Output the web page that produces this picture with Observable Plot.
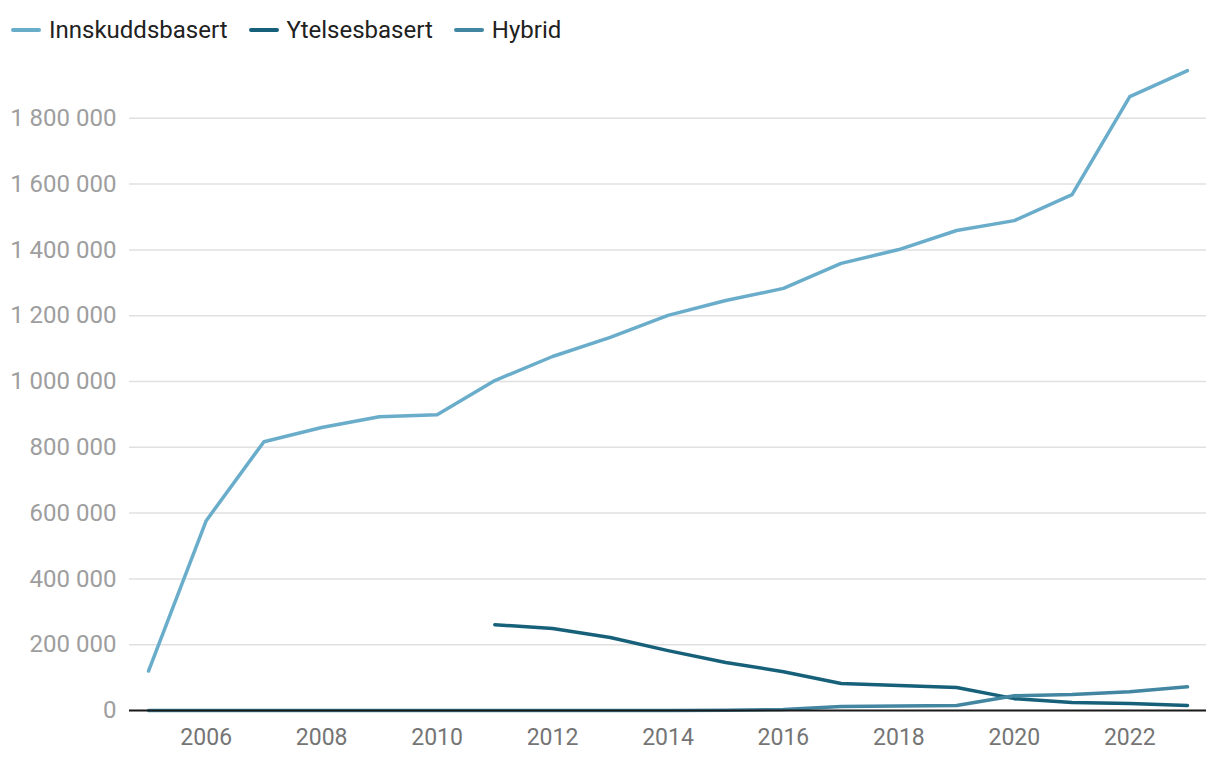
<!DOCTYPE html>
<html>
<head>
<meta charset="utf-8">
<script src="https://cdn.jsdelivr.net/npm/d3@7"></script>
<script src="https://cdn.jsdelivr.net/npm/@observablehq/plot@0.6"></script>
<style>
  html, body { margin: 0; padding: 0; background: #fff; }
  body { width: 1220px; height: 760px; overflow: hidden; font-family: Roboto, "Noto Sans", sans-serif; }
  #legend { height: 44px; display: flex; align-items: flex-end; padding-left: 11px; box-sizing: border-box; padding-bottom: 0px; }
  .item { display: flex; align-items: center; margin-right: 21px; font-size: 24px; color: #212121; }
  .sw { width: 30px; height: 4px; border-radius: 2px; margin-right: 8px; }
  svg { display: block; }
</style>
</head>
<body>
<div id="legend"></div>
<div id="chart"></div>
<script>
const years = [2005,2006,2007,2008,2009,2010,2011,2012,2013,2014,2015,2016,2017,2018,2019,2020,2021,2022,2023];
const innskuddsbasert = [120000,577000,817000,860000,893000,899000,1003000,1076000,1134000,1201000,1246000,1283000,1359000,1401000,1459000,1489000,1568000,1866000,1945000];
const ytelsesbasert = [null,null,null,null,null,null,261000,249000,222000,182000,146000,118000,82000,76000,70000,36000,24000,21000,15000];
const hybrid = [0,0,0,0,0,0,0,0,0,0,1000,3000,12000,14000,15000,45000,49000,57000,72000];
const seriesNames = ["Innskuddsbasert","Ytelsesbasert","Hybrid"];
const seriesColors = ["#6aadcb","#17607a","#4386a2"];
const yTicks = [0,200000,400000,600000,800000,1000000,1200000,1400000,1600000,1800000];
const xTicks = [2006,2008,2010,2012,2014,2016,2018,2020,2022];

const seriesValues = [innskuddsbasert, ytelsesbasert, hybrid];
const data = [];
seriesNames.forEach((s, i) => years.forEach((y, j) => data.push({series: s, year: y, value: seriesValues[i][j]})));

const locale = d3.formatLocale({thousands: " ", grouping: [3], decimal: ",", currency: ["", " kr"]});
const fmt = locale.format(",");

const legend = document.getElementById("legend");
seriesNames.forEach((s, i) => {
  const it = document.createElement("div");
  it.className = "item";
  it.innerHTML = `<div class="sw" style="background:${seriesColors[i]}"></div><span>${s}</span>`;
  legend.appendChild(it);
});

const chart = Plot.plot({
  width: 1220,
  height: 716,
  marginLeft: 129,
  marginRight: 14,
  marginTop: 8,
  marginBottom: 50,
  insetLeft: 19,
  insetRight: 19,
  style: {fontFamily: "Roboto, sans-serif", fontSize: "23px", background: "#fff"},
  x: {domain: [2005, 2023], ticks: xTicks, tickFormat: d => String(d), tickSize: 0, tickPadding: 18, label: null},
  y: {domain: [0, 2000000], ticks: yTicks, tickFormat: fmt, tickSize: 0, tickPadding: 13, label: null},
  color: {domain: seriesNames, range: seriesColors},
  marks: [
    Plot.gridY(yTicks, {stroke: "#e0e0e0", strokeOpacity: 1, strokeWidth: 1.5}),
    Plot.axisY({ticks: yTicks, tickFormat: fmt, tickSize: 0, tickPadding: 13, fill: "#9e9e9e", fontSize: 24, label: null}),
    Plot.axisX({ticks: xTicks, tickFormat: d => String(d), tickSize: 0, tickPadding: 18, fill: "#757575", fontSize: 23, label: null}),
    Plot.lineY(data.filter(d => d.series === "Innskuddsbasert"), {x: "year", y: "value", stroke: seriesColors[0], strokeWidth: 3.5, strokeLinejoin: "round", strokeLinecap: "round"}),
    Plot.lineY(data.filter(d => d.series === "Ytelsesbasert"), {x: "year", y: "value", stroke: seriesColors[1], strokeWidth: 3.5, strokeLinejoin: "round", strokeLinecap: "round"}),
    Plot.lineY(data.filter(d => d.series === "Hybrid"), {x: "year", y: "value", stroke: seriesColors[2], strokeWidth: 3.5, strokeLinejoin: "round", strokeLinecap: "round"}),
    Plot.ruleY([0], {stroke: "#1a1a1a", strokeWidth: 2})
  ]
});
document.getElementById("chart").appendChild(chart);
</script>
</body>
</html>
